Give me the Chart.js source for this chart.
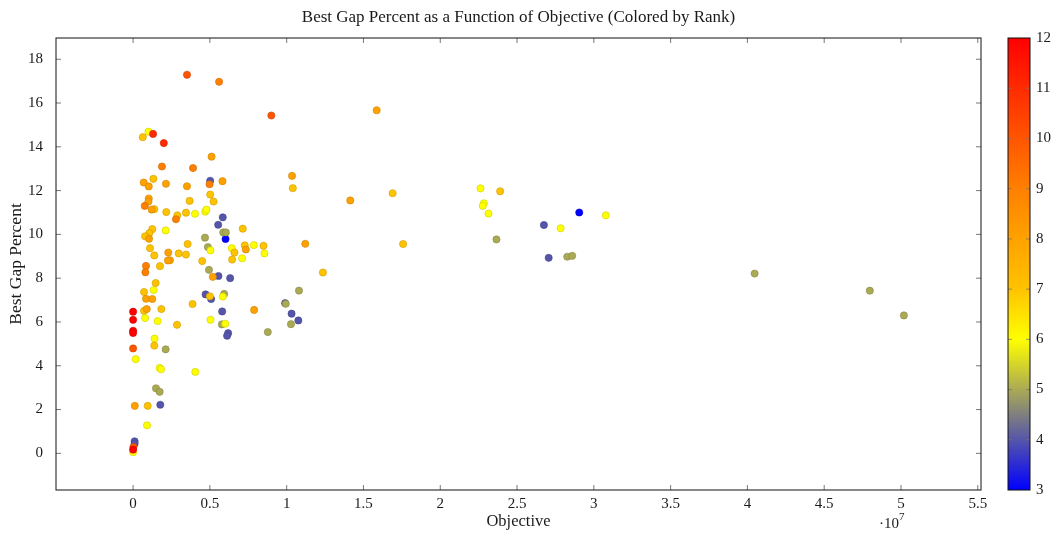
<!DOCTYPE html>
<html>
<head>
<meta charset="utf-8">
<script src="https://cdn.jsdelivr.net/npm/chart.js@4.4.1/dist/chart.umd.min.js"></script>
<style>
  html, body { margin: 0; padding: 0; background: #fff; }
</style>
</head>
<body>
<canvas id="chart" width="1055" height="533"></canvas>
<script>
// objective values, best gap percent and rank for each run (grouped by rank)
const objective = [
  // rank 3
  6020000, 29050000,
  // rank 4
  5020000, 5840000, 5540000, 5560000, 6320000, 4720000, 5080000, 5800000, 6190000, 6120000,
  9900000, 10320000, 10760000, 1770000, 100000, 100000, 26750000, 27060000,
  // rank 5
  4680000, 5870000, 6040000, 4870000, 4940000, 5930000, 5780000, 8770000, 9940000, 10280000,
  10800000, 2120000, 1490000, 1730000, 23660000, 28270000, 28590000, 40470000, 47970000, 50190000,
  // rank 6
  1000000, 4030000, 4700000, 4780000, 2120000, 5040000, 6430000, 7860000, 8550000, 7100000,
  1340000, 780000, 1600000, 5840000, 5040000, 6000000, 170000, 1400000, 1730000, 1820000,
  4050000, 910000, 0, 22620000, 22840000, 22770000, 23140000, 27840000, 30780000,
  // rank 7
  630000, 1320000, 10400000, 5020000, 5240000, 3680000, 1380000, 2160000, 2880000, 3440000,
  7140000, 1250000, 1060000, 780000, 3550000, 1100000, 1380000, 2970000, 3440000, 6600000,
  7270000, 8490000, 6450000, 4500000, 1750000, 1470000, 710000, 1840000, 710000, 2860000,
  3870000, 5000000, 1380000, 950000, 12360000, 16900000, 17580000, 23900000,
  // rank 8
  5110000, 10350000, 690000, 1020000, 2140000, 3510000, 5820000, 1020000, 1000000, 1210000,
  1040000, 2290000, 7340000, 2400000, 2270000, 5190000, 840000, 1250000, 890000, 7880000,
  110000, 15860000, 14140000, 11210000,
  // rank 9
  5600000, 1880000, 3900000, 4980000, 760000, 2790000, 840000, 800000,
  // rank 10
  3510000, 9000000, 0, 20000,
  // rank 11
  1300000, 2000000,
  // rank 12
  0, 0, 0, 0, 0
];
const bestGap = [
  // rank 3
  9.79, 11.00,
  // rank 4
  12.45, 10.78, 10.44, 8.10, 8.00, 7.26, 7.05, 6.48, 5.49, 5.37,
  6.86, 6.38, 6.07, 2.22, 0.55, 0.44, 10.43, 8.93,
  // rank 5
  9.85, 10.09, 10.09, 9.42, 8.38, 7.28, 5.89, 5.54, 6.83, 5.90,
  7.43, 4.75, 2.97, 2.81, 9.77, 8.98, 9.02, 8.21, 7.43, 6.30,
  // rank 6
  14.69, 10.94, 11.04, 11.13, 10.18, 9.27, 9.37, 9.51, 9.13, 8.91,
  7.46, 6.18, 6.04, 7.16, 6.10, 5.92, 4.30, 5.24, 3.90, 3.84,
  3.72, 1.28, 0.05, 12.10, 11.42, 11.30, 10.95, 10.28, 10.87,
  // rank 7
  14.44, 12.54, 12.11, 11.82, 11.50, 11.53, 11.15, 11.02, 10.87, 10.99,
  10.26, 10.24, 10.06, 9.91, 9.56, 9.37, 9.04, 9.13, 9.08, 9.17,
  9.50, 9.48, 8.85, 8.78, 8.55, 7.78, 7.37, 6.59, 6.51, 5.87,
  6.82, 7.17, 4.92, 2.17, 8.26, 11.88, 9.56, 11.97,
  // rank 8
  13.55, 12.67, 12.37, 12.19, 12.31, 12.20, 12.43, 11.64, 11.50, 11.13,
  9.80, 9.17, 9.31, 8.82, 8.81, 8.06, 7.06, 7.05, 6.59, 6.55,
  2.17, 15.67, 11.55, 9.57,
  // rank 9
  16.97, 13.10, 13.03, 12.29, 11.30, 10.69, 8.56, 8.27,
  // rank 10
  17.29, 15.43, 4.79, 0.29,
  // rank 11
  14.59, 14.17,
  // rank 12
  6.47, 6.10, 5.60, 5.50, 0.17
];
const rankCounts = { 3: 2, 4: 18, 5: 20, 6: 29, 7: 38, 8: 24, 9: 8, 10: 4, 11: 2, 12: 5 };

const xTickValues = [0, 5e6, 1e7, 1.5e7, 2e7, 2.5e7, 3e7, 3.5e7, 4e7, 4.5e7, 5e7, 5.5e7];
const xTickLabels = ['0', '0.5', '1', '1.5', '2', '2.5', '3', '3.5', '4', '4.5', '5', '5.5'];
const yTickValues = [0, 2, 4, 6, 8, 10, 12, 14, 16, 18];
const rankTicks = [3, 4, 5, 6, 7, 8, 9, 10, 11, 12];

// colormap: blue -> yellow -> amber -> orange -> red
const cmapStops = [3, 6, 7, 9, 12];
const cmapColors = [[0, 0, 255], [255, 255, 0], [255, 195, 0], [255, 128, 0], [255, 0, 0]];

const FONT = '"Liberation Serif", "Times New Roman", serif';
const TEXT = '#1a1a1a';

// expand the rank counts into one rank per point
const pointRank = [];
Object.keys(rankCounts).forEach(r => {
    for (let i = 0; i < rankCounts[r]; i++) pointRank.push(Number(r));
});

function mapRank(r) {
    let i = 0;
    while (i < cmapStops.length - 2 && r > cmapStops[i + 1]) i++;
    const t = (r - cmapStops[i]) / (cmapStops[i + 1] - cmapStops[i]);
    const a = cmapColors[i], b = cmapColors[i + 1];
    return a.map((v, k) => v + (b[k] - v) * t);
}
function rgb(c) {
    return 'rgb(' + c.map(v => Math.round(v)).join(',') + ')';
}

const points = objective.map((x, i) => ({ x: x, y: bestGap[i] }));
const fillColors = pointRank.map(r => rgb(mapRank(r)));
const edgeColors = pointRank.map(r => rgb(mapRank(r).map(v => v * 0.8)));

// frame, inward ticks, colorbar and the 10^7 multiplier
const axisDecor = {
    id: 'axisDecor',
    afterDatasetsDraw(chart) {
        const { ctx, chartArea: a, scales } = chart;
        const len = 5;
        ctx.save();
        ctx.strokeStyle = '#555';
        ctx.lineWidth = 0.8;
        ctx.beginPath();
        scales.x.ticks.forEach(tk => {
            const px = scales.x.getPixelForValue(tk.value);
            ctx.moveTo(px, a.bottom); ctx.lineTo(px, a.bottom - len);
            ctx.moveTo(px, a.top); ctx.lineTo(px, a.top + len);
        });
        scales.y.ticks.forEach(tk => {
            const py = scales.y.getPixelForValue(tk.value);
            ctx.moveTo(a.left, py); ctx.lineTo(a.left + len, py);
            ctx.moveTo(a.right, py); ctx.lineTo(a.right - len, py);
        });
        ctx.stroke();

        ctx.strokeStyle = '#111';
        ctx.lineWidth = 1;
        ctx.strokeRect(a.left, a.top, a.right - a.left, a.bottom - a.top);

        // colorbar
        const cb = scales.cb;
        const x0 = a.right + 27, w = 22;
        const lo = rankTicks[0], hi = rankTicks[rankTicks.length - 1];
        const yTop = cb.getPixelForValue(hi), yBot = cb.getPixelForValue(lo);
        const g = ctx.createLinearGradient(0, yBot, 0, yTop);
        cmapStops.forEach((s, i) => g.addColorStop((s - lo) / (hi - lo), rgb(cmapColors[i])));
        ctx.fillStyle = g;
        ctx.fillRect(x0, yTop, w, yBot - yTop);
        ctx.strokeStyle = '#777';
        ctx.lineWidth = 0.8;
        ctx.beginPath();
        rankTicks.slice(1, -1).forEach(v => {
            const py = cb.getPixelForValue(v);
            ctx.moveTo(x0, py); ctx.lineTo(x0 + 4, py);
            ctx.moveTo(x0 + w, py); ctx.lineTo(x0 + w - 4, py);
        });
        ctx.stroke();
        ctx.strokeStyle = '#111';
        ctx.lineWidth = 1;
        ctx.strokeRect(x0, yTop, w, yBot - yTop);

        // axis multiplier
        ctx.fillStyle = TEXT;
        ctx.textBaseline = 'alphabetic';
        ctx.textAlign = 'left';
        ctx.font = '15px ' + FONT;
        ctx.fillText('\u00b710', 879, 528);
        ctx.font = '11px ' + FONT;
        ctx.fillText('7', 899, 520);
        ctx.restore();
    }
};

new Chart(document.getElementById('chart'), {
    type: 'scatter',
    data: {
        datasets: [{
            data: points,
            backgroundColor: fillColors,
            borderColor: edgeColors,
            borderWidth: 0.6,
            pointRadius: 3.6,
            pointHoverRadius: 3.6
        }]
    },
    options: {
        responsive: false,
        animation: false,
        events: [],
        layout: { padding: 0 },
        plugins: {
            legend: { display: false },
            tooltip: { enabled: false },
            title: {
                display: true,
                fullSize: false,
                text: 'Best Gap Percent as a Function of Objective (Colored by Rank)',
                color: TEXT,
                font: { family: FONT, size: 17, weight: 'normal' },
                padding: { top: 7, bottom: 10.6 }
            }
        },
        scales: {
            x: {
                type: 'linear',
                min: -5.02e6,
                max: 5.521e7,
                grid: { display: false },
                border: { display: false },
                afterBuildTicks: s => { s.ticks = xTickValues.map(v => ({ value: v })); },
                afterFit: s => { s.height = 43; },
                ticks: {
                    color: TEXT,
                    font: { family: FONT, size: 15 },
                    padding: -3,
                    maxRotation: 0,
                    callback: (v, i) => xTickLabels[i]
                },
                title: {
                    display: true,
                    text: 'Objective',
                    color: TEXT,
                    font: { family: FONT, size: 16.5 },
                    padding: { top: 0, bottom: 1 }
                }
            },
            y: {
                type: 'linear',
                min: -1.674,
                max: 18.97,
                grid: { display: false },
                border: { display: false },
                afterBuildTicks: s => { s.ticks = yTickValues.map(v => ({ value: v })); },
                afterFit: s => { s.width = 56; },
                ticks: {
                    color: TEXT,
                    font: { family: FONT, size: 15 },
                    padding: 5,
                    callback: v => String(v)
                },
                title: {
                    display: true,
                    text: 'Best Gap Percent',
                    color: TEXT,
                    font: { family: FONT, size: 17.5 },
                    padding: { top: 6, bottom: 0 }
                }
            },
            cb: {
                type: 'linear',
                position: 'right',
                min: 3,
                max: 12,
                grid: {
                    display: true,
                    drawOnChartArea: false,
                    drawTicks: true,
                    tickLength: 50,
                    color: 'rgba(0,0,0,0)'
                },
                border: { display: false },
                afterBuildTicks: s => { s.ticks = rankTicks.map(v => ({ value: v })); },
                afterFit: s => { s.width = 74; },
                ticks: {
                    color: TEXT,
                    font: { family: FONT, size: 15 },
                    padding: 5,
                    callback: v => String(v)
                }
            }
        }
    },
    plugins: [axisDecor]
});
</script>
</body>
</html>
